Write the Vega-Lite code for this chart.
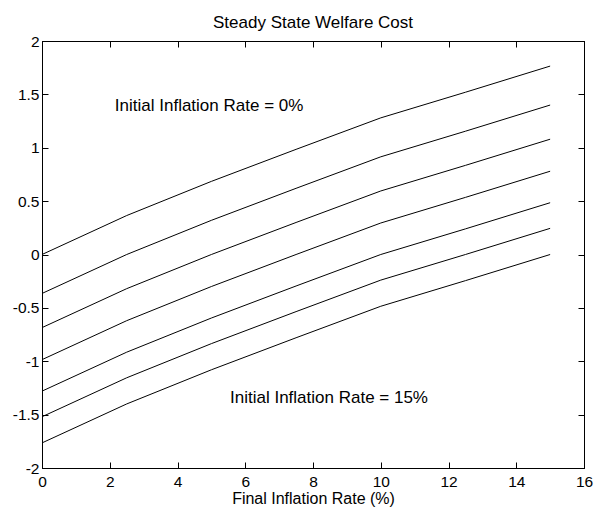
{
  "$schema": "https://vega.github.io/schema/vega-lite/v6.json",
  "width": 542,
  "height": 427,
  "autosize": "none",
  "padding": {"left": 42, "top": 41, "right": 11, "bottom": 42},
  "background": "white",
  "title": {"text": "Steady State Welfare Cost", "font": "Liberation Sans", "fontSize": 17, "fontWeight": "normal", "color": "black", "offset": 2, "anchor": "middle"},
  "config": {
    "view": {"stroke": "black", "strokeWidth": 1},
    "axis": {
      "domainColor": "black",
      "domainWidth": 1,
      "tickColor": "black",
      "tickSize": -6,
      "grid": false,
      "labelFont": "Liberation Sans",
      "labelFontSize": 15.5,
      "labelColor": "black",
      "titleFont": "Liberation Sans",
      "titleFontSize": 16,
      "titleFontWeight": "normal",
      "titleColor": "black"
    }
  },
  "layer": [
    {
      "data": {
        "values": [
          {"initial": 0, "final": 0, "cost": 0},
          {"initial": 0, "final": 2.5, "cost": 0.365},
          {"initial": 0, "final": 5, "cost": 0.685},
          {"initial": 0, "final": 7.5, "cost": 0.985},
          {"initial": 0, "final": 10, "cost": 1.28},
          {"initial": 0, "final": 12.5, "cost": 1.52},
          {"initial": 0, "final": 15, "cost": 1.765},
          {"initial": 2.5, "final": 0, "cost": -0.365},
          {"initial": 2.5, "final": 2.5, "cost": 0},
          {"initial": 2.5, "final": 5, "cost": 0.32},
          {"initial": 2.5, "final": 7.5, "cost": 0.62},
          {"initial": 2.5, "final": 10, "cost": 0.915},
          {"initial": 2.5, "final": 12.5, "cost": 1.155},
          {"initial": 2.5, "final": 15, "cost": 1.4},
          {"initial": 5, "final": 0, "cost": -0.685},
          {"initial": 5, "final": 2.5, "cost": -0.32},
          {"initial": 5, "final": 5, "cost": 0},
          {"initial": 5, "final": 7.5, "cost": 0.3},
          {"initial": 5, "final": 10, "cost": 0.595},
          {"initial": 5, "final": 12.5, "cost": 0.835},
          {"initial": 5, "final": 15, "cost": 1.08},
          {"initial": 7.5, "final": 0, "cost": -0.985},
          {"initial": 7.5, "final": 2.5, "cost": -0.62},
          {"initial": 7.5, "final": 5, "cost": -0.3},
          {"initial": 7.5, "final": 7.5, "cost": 0},
          {"initial": 7.5, "final": 10, "cost": 0.295},
          {"initial": 7.5, "final": 12.5, "cost": 0.535},
          {"initial": 7.5, "final": 15, "cost": 0.78},
          {"initial": 10, "final": 0, "cost": -1.28},
          {"initial": 10, "final": 2.5, "cost": -0.915},
          {"initial": 10, "final": 5, "cost": -0.595},
          {"initial": 10, "final": 7.5, "cost": -0.295},
          {"initial": 10, "final": 10, "cost": 0},
          {"initial": 10, "final": 12.5, "cost": 0.24},
          {"initial": 10, "final": 15, "cost": 0.485},
          {"initial": 12.5, "final": 0, "cost": -1.52},
          {"initial": 12.5, "final": 2.5, "cost": -1.155},
          {"initial": 12.5, "final": 5, "cost": -0.835},
          {"initial": 12.5, "final": 7.5, "cost": -0.535},
          {"initial": 12.5, "final": 10, "cost": -0.24},
          {"initial": 12.5, "final": 12.5, "cost": 0},
          {"initial": 12.5, "final": 15, "cost": 0.245},
          {"initial": 15, "final": 0, "cost": -1.765},
          {"initial": 15, "final": 2.5, "cost": -1.4},
          {"initial": 15, "final": 5, "cost": -1.08},
          {"initial": 15, "final": 7.5, "cost": -0.78},
          {"initial": 15, "final": 10, "cost": -0.485},
          {"initial": 15, "final": 12.5, "cost": -0.245},
          {"initial": 15, "final": 15, "cost": 0}
        ]
      },
      "mark": {"type": "line", "color": "black", "strokeWidth": 1},
      "encoding": {
        "x": {
          "field": "final", "type": "quantitative",
          "scale": {"domain": [0, 16], "nice": false, "zero": false},
          "axis": {"orient": "bottom", "title": "Final Inflation Rate (%)", "values": [0, 2, 4, 6, 8, 10, 12, 14, 16], "format": "~g", "labelPadding": 12, "titlePadding": 1, "labelFlush": false, "labelOverlap": false}
        },
        "y": {
          "field": "cost", "type": "quantitative",
          "scale": {"domain": [-2, 2], "nice": false, "zero": false},
          "axis": {"orient": "left", "title": null, "values": [-2, -1.5, -1, -0.5, 0, 0.5, 1, 1.5, 2], "labelPadding": 9, "labelFlush": false, "labelOverlap": false, "labelExpr": "datum.value < 0 ? '-' + format(-datum.value, '~g') : format(datum.value, '~g')"}
        },
        "detail": {"field": "initial", "type": "nominal"}
      }
    },
    {
      "data": {
        "values": [
          {"x": 2.15, "y": 1.39, "label": "Initial Inflation Rate = 0%"},
          {"x": 5.55, "y": -1.344, "label": "Initial Inflation Rate = 15%"}
        ]
      },
      "mark": {"type": "text", "align": "left", "baseline": "middle", "font": "Liberation Sans", "fontSize": 17, "color": "black"},
      "encoding": {
        "x": {
          "field": "x", "type": "quantitative",
          "scale": {"domain": [0, 16], "nice": false, "zero": false},
          "axis": {"orient": "top", "title": null, "labels": false, "values": [0, 2, 4, 6, 8, 10, 12, 14, 16]}
        },
        "y": {
          "field": "y", "type": "quantitative",
          "scale": {"domain": [-2, 2], "nice": false, "zero": false},
          "axis": {"orient": "right", "title": null, "labels": false, "values": [-2, -1.5, -1, -0.5, 0, 0.5, 1, 1.5, 2]}
        },
        "text": {"field": "label"}
      }
    }
  ],
  "resolve": {"axis": {"x": "independent", "y": "independent"}}
}
